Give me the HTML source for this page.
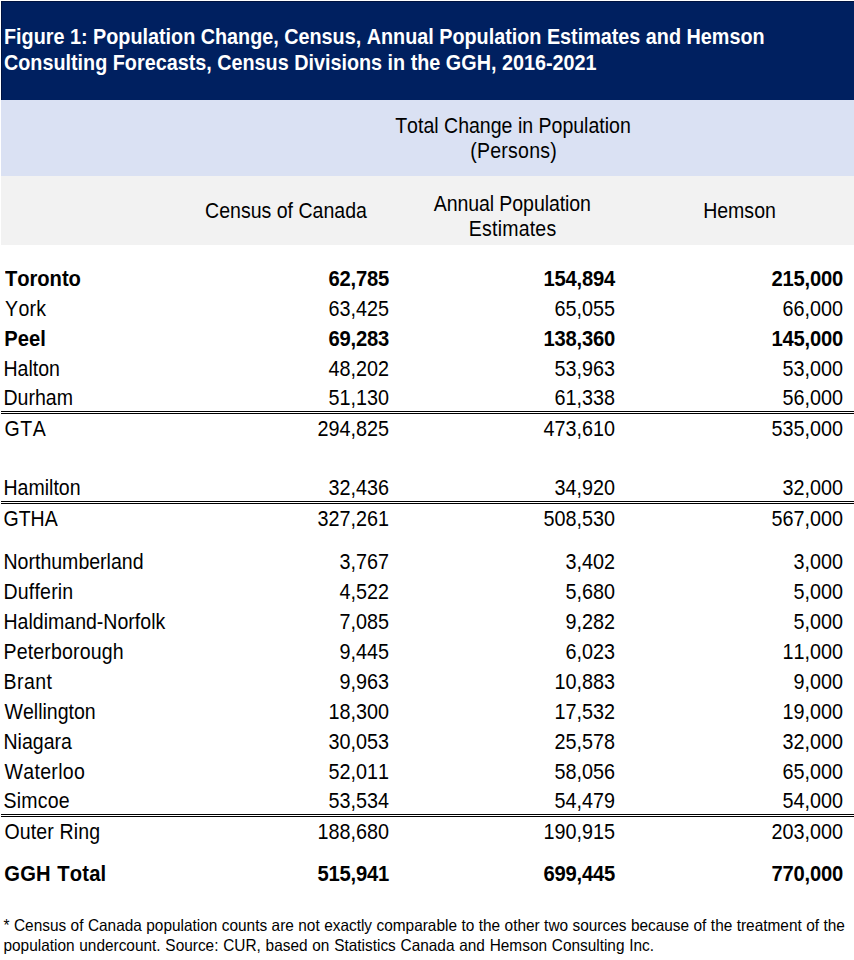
<!DOCTYPE html>
<html><head><meta charset="utf-8"><title>Figure 1: Population Change, Census Divisions in the GGH, 2016-2021</title>
<style>
html,body{margin:0;padding:0;background:#fff;}
body{width:854px;height:960px;position:relative;overflow:hidden;font-family:"Liberation Sans",sans-serif;color:#000;font-kerning:none;}
.a{position:absolute;white-space:nowrap;}
.bar{position:absolute;left:1px;right:0;}
.r{text-align:right;}
.c{text-align:center;}
.hl{position:absolute;left:1px;right:0;height:1px;background:#000;}
</style></head><body>
<div class="bar" style="top:1px;height:99px;background:#002060;box-shadow:inset 1px 1px 0 #00123f"></div>
<div class="bar" style="top:100px;height:76px;background:#DAE1F3"></div>
<div class="bar" style="top:176px;height:69px;background:#F2F2F2"></div>

<div class="a" style="top:26.00px;font-size:19.8px;line-height:22px;transform:scaleY(1.1);transform-origin:0 18.00px;font-weight:bold;color:#fff;left:4px;">Figure 1: Population Change, Census, Annual Population Estimates and Hemson</div>
<div class="a" style="top:52.00px;font-size:19.8px;line-height:22px;transform:scaleY(1.1);transform-origin:0 18.00px;font-weight:bold;color:#fff;left:4px;">Consulting Forecasts, Census Divisions in the GGH, 2016-2021</div>
<div class="a c" style="top:115.00px;font-size:19.55px;line-height:22px;transform:scaleY(1.115);transform-origin:0 18.00px;left:313.00px;width:400px;">Total Change in Population</div>
<div class="a c" style="top:140.00px;font-size:19.55px;line-height:22px;transform:scaleY(1.115);transform-origin:0 18.00px;letter-spacing:0.25px;left:313.60px;width:400px;">(Persons)</div>
<div class="a c" style="top:200.00px;font-size:19.55px;line-height:22px;transform:scaleY(1.115);transform-origin:0 18.00px;left:86.00px;width:400px;">Census of Canada</div>
<div class="a c" style="top:193.00px;font-size:19.55px;line-height:22px;transform:scaleY(1.115);transform-origin:0 18.00px;letter-spacing:-0.08px;left:312.30px;width:400px;">Annual Population</div>
<div class="a c" style="top:218.00px;font-size:19.55px;line-height:22px;transform:scaleY(1.115);transform-origin:0 18.00px;letter-spacing:0.2px;left:312.60px;width:400px;">Estimates</div>
<div class="a c" style="top:200.00px;font-size:19.55px;line-height:22px;transform:scaleY(1.115);transform-origin:0 18.00px;left:539.50px;width:400px;">Hemson</div>
<div class="a" style="top:268.00px;font-size:20.2px;line-height:22px;transform:scaleY(1.08);transform-origin:0 18.00px;font-weight:bold;letter-spacing:-0.08px;word-spacing:0.6px;left:5.1px;">Toronto</div>
<div class="a r" style="top:268.00px;font-size:20.2px;line-height:22px;transform:scaleY(1.08);transform-origin:0 18.00px;font-weight:bold;letter-spacing:-0.18px;right:464.90px;">62,785</div>
<div class="a r" style="top:268.00px;font-size:20.2px;line-height:22px;transform:scaleY(1.08);transform-origin:0 18.00px;font-weight:bold;letter-spacing:-0.18px;right:238.90px;">154,894</div>
<div class="a r" style="top:268.00px;font-size:20.2px;line-height:22px;transform:scaleY(1.08);transform-origin:0 18.00px;font-weight:bold;letter-spacing:-0.18px;right:10.90px;">215,000</div>
<div class="a" style="top:298.00px;font-size:19.55px;line-height:22px;transform:scaleY(1.115);transform-origin:0 18.00px;letter-spacing:0.27px;left:5.1px;">York</div>
<div class="a r" style="top:298.00px;font-size:19.8px;line-height:22px;transform:scaleY(1.1);transform-origin:0 18.00px;right:465.10px;">63,425</div>
<div class="a r" style="top:298.00px;font-size:19.8px;line-height:22px;transform:scaleY(1.1);transform-origin:0 18.00px;right:239.10px;">65,055</div>
<div class="a r" style="top:298.00px;font-size:19.8px;line-height:22px;transform:scaleY(1.1);transform-origin:0 18.00px;right:11.10px;">66,000</div>
<div class="a" style="top:328.00px;font-size:20.2px;line-height:22px;transform:scaleY(1.08);transform-origin:0 18.00px;font-weight:bold;word-spacing:0.6px;left:4.3px;">Peel</div>
<div class="a r" style="top:328.00px;font-size:20.2px;line-height:22px;transform:scaleY(1.08);transform-origin:0 18.00px;font-weight:bold;letter-spacing:-0.18px;right:464.90px;">69,283</div>
<div class="a r" style="top:328.00px;font-size:20.2px;line-height:22px;transform:scaleY(1.08);transform-origin:0 18.00px;font-weight:bold;letter-spacing:-0.18px;right:238.90px;">138,360</div>
<div class="a r" style="top:328.00px;font-size:20.2px;line-height:22px;transform:scaleY(1.08);transform-origin:0 18.00px;font-weight:bold;letter-spacing:-0.18px;right:10.90px;">145,000</div>
<div class="a" style="top:358.00px;font-size:19.55px;line-height:22px;transform:scaleY(1.115);transform-origin:0 18.00px;left:3.5px;">Halton</div>
<div class="a r" style="top:358.00px;font-size:19.8px;line-height:22px;transform:scaleY(1.1);transform-origin:0 18.00px;right:465.10px;">48,202</div>
<div class="a r" style="top:358.00px;font-size:19.8px;line-height:22px;transform:scaleY(1.1);transform-origin:0 18.00px;right:239.10px;">53,963</div>
<div class="a r" style="top:358.00px;font-size:19.8px;line-height:22px;transform:scaleY(1.1);transform-origin:0 18.00px;right:11.10px;">53,000</div>
<div class="a" style="top:387.00px;font-size:19.55px;line-height:22px;transform:scaleY(1.115);transform-origin:0 18.00px;left:3.5px;">Durham</div>
<div class="a r" style="top:387.00px;font-size:19.8px;line-height:22px;transform:scaleY(1.1);transform-origin:0 18.00px;right:465.10px;">51,130</div>
<div class="a r" style="top:387.00px;font-size:19.8px;line-height:22px;transform:scaleY(1.1);transform-origin:0 18.00px;right:239.10px;">61,338</div>
<div class="a r" style="top:387.00px;font-size:19.8px;line-height:22px;transform:scaleY(1.1);transform-origin:0 18.00px;right:11.10px;">56,000</div>
<div class="a" style="top:418.00px;font-size:19.55px;line-height:22px;transform:scaleY(1.115);transform-origin:0 18.00px;letter-spacing:0.6px;left:4.5px;">GTA</div>
<div class="a r" style="top:418.00px;font-size:19.8px;line-height:22px;transform:scaleY(1.1);transform-origin:0 18.00px;right:465.10px;">294,825</div>
<div class="a r" style="top:418.00px;font-size:19.8px;line-height:22px;transform:scaleY(1.1);transform-origin:0 18.00px;right:239.10px;">473,610</div>
<div class="a r" style="top:418.00px;font-size:19.8px;line-height:22px;transform:scaleY(1.1);transform-origin:0 18.00px;right:11.10px;">535,000</div>
<div class="a" style="top:477.00px;font-size:19.55px;line-height:22px;transform:scaleY(1.115);transform-origin:0 18.00px;left:3.5px;">Hamilton</div>
<div class="a r" style="top:477.00px;font-size:19.8px;line-height:22px;transform:scaleY(1.1);transform-origin:0 18.00px;right:465.10px;">32,436</div>
<div class="a r" style="top:477.00px;font-size:19.8px;line-height:22px;transform:scaleY(1.1);transform-origin:0 18.00px;right:239.10px;">34,920</div>
<div class="a r" style="top:477.00px;font-size:19.8px;line-height:22px;transform:scaleY(1.1);transform-origin:0 18.00px;right:11.10px;">32,000</div>
<div class="a" style="top:508.00px;font-size:19.55px;line-height:22px;transform:scaleY(1.115);transform-origin:0 18.00px;left:3.5px;">GTHA</div>
<div class="a r" style="top:508.00px;font-size:19.8px;line-height:22px;transform:scaleY(1.1);transform-origin:0 18.00px;right:465.10px;">327,261</div>
<div class="a r" style="top:508.00px;font-size:19.8px;line-height:22px;transform:scaleY(1.1);transform-origin:0 18.00px;right:239.10px;">508,530</div>
<div class="a r" style="top:508.00px;font-size:19.8px;line-height:22px;transform:scaleY(1.1);transform-origin:0 18.00px;right:11.10px;">567,000</div>
<div class="a" style="top:551.00px;font-size:19.55px;line-height:22px;transform:scaleY(1.115);transform-origin:0 18.00px;left:3.5px;">Northumberland</div>
<div class="a r" style="top:551.00px;font-size:19.8px;line-height:22px;transform:scaleY(1.1);transform-origin:0 18.00px;right:465.10px;">3,767</div>
<div class="a r" style="top:551.00px;font-size:19.8px;line-height:22px;transform:scaleY(1.1);transform-origin:0 18.00px;right:239.10px;">3,402</div>
<div class="a r" style="top:551.00px;font-size:19.8px;line-height:22px;transform:scaleY(1.1);transform-origin:0 18.00px;right:11.10px;">3,000</div>
<div class="a" style="top:581.00px;font-size:19.55px;line-height:22px;transform:scaleY(1.115);transform-origin:0 18.00px;letter-spacing:0.19px;left:3.5px;">Dufferin</div>
<div class="a r" style="top:581.00px;font-size:19.8px;line-height:22px;transform:scaleY(1.1);transform-origin:0 18.00px;right:465.10px;">4,522</div>
<div class="a r" style="top:581.00px;font-size:19.8px;line-height:22px;transform:scaleY(1.1);transform-origin:0 18.00px;right:239.10px;">5,680</div>
<div class="a r" style="top:581.00px;font-size:19.8px;line-height:22px;transform:scaleY(1.1);transform-origin:0 18.00px;right:11.10px;">5,000</div>
<div class="a" style="top:611.00px;font-size:19.55px;line-height:22px;transform:scaleY(1.115);transform-origin:0 18.00px;left:3.5px;">Haldimand-Norfolk</div>
<div class="a r" style="top:611.00px;font-size:19.8px;line-height:22px;transform:scaleY(1.1);transform-origin:0 18.00px;right:465.10px;">7,085</div>
<div class="a r" style="top:611.00px;font-size:19.8px;line-height:22px;transform:scaleY(1.1);transform-origin:0 18.00px;right:239.10px;">9,282</div>
<div class="a r" style="top:611.00px;font-size:19.8px;line-height:22px;transform:scaleY(1.1);transform-origin:0 18.00px;right:11.10px;">5,000</div>
<div class="a" style="top:641.00px;font-size:19.55px;line-height:22px;transform:scaleY(1.115);transform-origin:0 18.00px;letter-spacing:0.16px;left:3.5px;">Peterborough</div>
<div class="a r" style="top:641.00px;font-size:19.8px;line-height:22px;transform:scaleY(1.1);transform-origin:0 18.00px;right:465.10px;">9,445</div>
<div class="a r" style="top:641.00px;font-size:19.8px;line-height:22px;transform:scaleY(1.1);transform-origin:0 18.00px;right:239.10px;">6,023</div>
<div class="a r" style="top:641.00px;font-size:19.8px;line-height:22px;transform:scaleY(1.1);transform-origin:0 18.00px;right:11.10px;">11,000</div>
<div class="a" style="top:671.00px;font-size:19.55px;line-height:22px;transform:scaleY(1.115);transform-origin:0 18.00px;letter-spacing:0.45px;left:3.5px;">Brant</div>
<div class="a r" style="top:671.00px;font-size:19.8px;line-height:22px;transform:scaleY(1.1);transform-origin:0 18.00px;right:465.10px;">9,963</div>
<div class="a r" style="top:671.00px;font-size:19.8px;line-height:22px;transform:scaleY(1.1);transform-origin:0 18.00px;right:239.10px;">10,883</div>
<div class="a r" style="top:671.00px;font-size:19.8px;line-height:22px;transform:scaleY(1.1);transform-origin:0 18.00px;right:11.10px;">9,000</div>
<div class="a" style="top:701.00px;font-size:19.55px;line-height:22px;transform:scaleY(1.115);transform-origin:0 18.00px;letter-spacing:0px;left:4.5px;">Wellington</div>
<div class="a r" style="top:701.00px;font-size:19.8px;line-height:22px;transform:scaleY(1.1);transform-origin:0 18.00px;right:465.10px;">18,300</div>
<div class="a r" style="top:701.00px;font-size:19.8px;line-height:22px;transform:scaleY(1.1);transform-origin:0 18.00px;right:239.10px;">17,532</div>
<div class="a r" style="top:701.00px;font-size:19.8px;line-height:22px;transform:scaleY(1.1);transform-origin:0 18.00px;right:11.10px;">19,000</div>
<div class="a" style="top:731.00px;font-size:19.55px;line-height:22px;transform:scaleY(1.115);transform-origin:0 18.00px;left:3.5px;">Niagara</div>
<div class="a r" style="top:731.00px;font-size:19.8px;line-height:22px;transform:scaleY(1.1);transform-origin:0 18.00px;right:465.10px;">30,053</div>
<div class="a r" style="top:731.00px;font-size:19.8px;line-height:22px;transform:scaleY(1.1);transform-origin:0 18.00px;right:239.10px;">25,578</div>
<div class="a r" style="top:731.00px;font-size:19.8px;line-height:22px;transform:scaleY(1.1);transform-origin:0 18.00px;right:11.10px;">32,000</div>
<div class="a" style="top:761.00px;font-size:19.55px;line-height:22px;transform:scaleY(1.115);transform-origin:0 18.00px;letter-spacing:0.31px;left:4.5px;">Waterloo</div>
<div class="a r" style="top:761.00px;font-size:19.8px;line-height:22px;transform:scaleY(1.1);transform-origin:0 18.00px;right:465.10px;">52,011</div>
<div class="a r" style="top:761.00px;font-size:19.8px;line-height:22px;transform:scaleY(1.1);transform-origin:0 18.00px;right:239.10px;">58,056</div>
<div class="a r" style="top:761.00px;font-size:19.8px;line-height:22px;transform:scaleY(1.1);transform-origin:0 18.00px;right:11.10px;">65,000</div>
<div class="a" style="top:790.00px;font-size:19.55px;line-height:22px;transform:scaleY(1.115);transform-origin:0 18.00px;letter-spacing:0.22px;left:3.5px;">Simcoe</div>
<div class="a r" style="top:790.00px;font-size:19.8px;line-height:22px;transform:scaleY(1.1);transform-origin:0 18.00px;right:465.10px;">53,534</div>
<div class="a r" style="top:790.00px;font-size:19.8px;line-height:22px;transform:scaleY(1.1);transform-origin:0 18.00px;right:239.10px;">54,479</div>
<div class="a r" style="top:790.00px;font-size:19.8px;line-height:22px;transform:scaleY(1.1);transform-origin:0 18.00px;right:11.10px;">54,000</div>
<div class="a" style="top:821.00px;font-size:19.55px;line-height:22px;transform:scaleY(1.115);transform-origin:0 18.00px;letter-spacing:0.12px;left:4.5px;">Outer Ring</div>
<div class="a r" style="top:821.00px;font-size:19.8px;line-height:22px;transform:scaleY(1.1);transform-origin:0 18.00px;right:465.10px;">188,680</div>
<div class="a r" style="top:821.00px;font-size:19.8px;line-height:22px;transform:scaleY(1.1);transform-origin:0 18.00px;right:239.10px;">190,915</div>
<div class="a r" style="top:821.00px;font-size:19.8px;line-height:22px;transform:scaleY(1.1);transform-origin:0 18.00px;right:11.10px;">203,000</div>
<div class="a" style="top:863.00px;font-size:20.2px;line-height:22px;transform:scaleY(1.08);transform-origin:0 18.00px;font-weight:bold;letter-spacing:0.19px;word-spacing:0.6px;left:4.3px;">GGH Total</div>
<div class="a r" style="top:863.00px;font-size:20.2px;line-height:22px;transform:scaleY(1.08);transform-origin:0 18.00px;font-weight:bold;letter-spacing:-0.18px;right:464.90px;">515,941</div>
<div class="a r" style="top:863.00px;font-size:20.2px;line-height:22px;transform:scaleY(1.08);transform-origin:0 18.00px;font-weight:bold;letter-spacing:-0.18px;right:238.90px;">699,445</div>
<div class="a r" style="top:863.00px;font-size:20.2px;line-height:22px;transform:scaleY(1.08);transform-origin:0 18.00px;font-weight:bold;letter-spacing:-0.18px;right:10.90px;">770,000</div>
<div class="hl" style="top:411px"></div><div class="hl" style="top:413px"></div>
<div class="hl" style="top:501px"></div><div class="hl" style="top:503px"></div>
<div class="hl" style="top:814px"></div><div class="hl" style="top:816px"></div>
<div class="a" style="top:917.00px;font-size:15.4px;line-height:17px;transform:scaleY(1.085);transform-origin:0 14.00px;word-spacing:0.19px;left:3.5px;">* Census of Canada population counts are not exactly comparable to the other two sources because of the treatment of the</div>
<div class="a" style="top:937.00px;font-size:15.4px;line-height:17px;transform:scaleY(1.085);transform-origin:0 14.00px;word-spacing:0.5px;left:3.5px;">population undercount. Source: CUR, based on Statistics Canada and Hemson Consulting Inc.</div>
</body></html>
